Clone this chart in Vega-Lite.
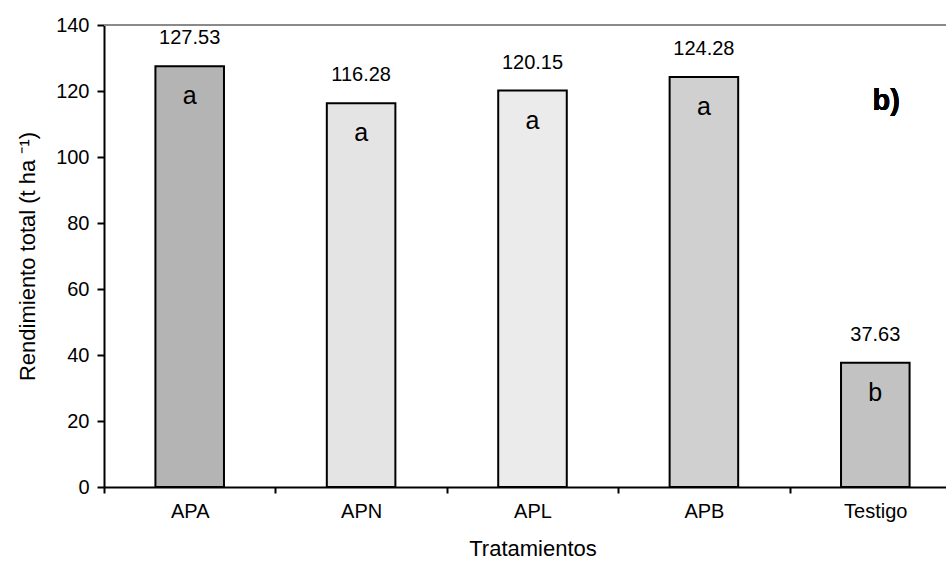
{
  "$schema": "https://vega.github.io/schema/vega-lite/v6.json",
  "width": 842,
  "height": 462,
  "autosize": "none",
  "padding": {"left": 104, "top": 25, "right": 0, "bottom": 75},
  "background": "white",
  "config": {
    "view": {"stroke": null},
    "font": "Liberation Sans",
    "text": {"font": "Liberation Sans"}
  },
  "data": {
    "values": [
      {"tratamiento": "APA", "rendimiento": 127.53, "letra": "a"},
      {"tratamiento": "APN", "rendimiento": 116.28, "letra": "a"},
      {"tratamiento": "APL", "rendimiento": 120.15, "letra": "a"},
      {"tratamiento": "APB", "rendimiento": 124.28, "letra": "a"},
      {"tratamiento": "Testigo", "rendimiento": 37.63, "letra": "b"}
    ]
  },
  "layer": [
    {
      "mark": {"type": "rule", "color": "#8a8a8a", "strokeWidth": 2},
      "encoding": {"y": {"datum": 140}}
    },
    {
      "mark": {"type": "bar", "width": {"band": 0.4}, "stroke": "black", "strokeWidth": 2},
      "encoding": {
        "x": {
          "field": "tratamiento",
          "type": "nominal",
          "sort": null,
          "scale": {"range": [0, 857], "paddingInner": 0, "paddingOuter": 0},
          "axis": {
            "title": "Tratamientos",
            "labelAngle": 0,
            "labelFontSize": 20,
            "labelColor": "black",
            "labelPadding": 8,
            "titleFontSize": 22,
            "titleFontWeight": "normal",
            "titleColor": "black",
            "titlePadding": 17,
            "domainColor": "black",
            "domainWidth": 2,
            "tickBand": "extent",
            "tickColor": "black",
            "tickWidth": 2,
            "tickSize": 6,
            "grid": false
          }
        },
        "y": {
          "field": "rendimiento",
          "type": "quantitative",
          "scale": {"domain": [0, 140], "nice": false},
          "axis": {
            "values": [0, 20, 40, 60, 80, 100, 120, 140],
            "title": "Rendimiento total (t ha ⁻¹)",
            "labelFontSize": 20,
            "labelColor": "black",
            "labelPadding": 8,
            "titleFontSize": 22,
            "titleFontWeight": "normal",
            "titleColor": "black",
            "titlePadding": 16,
            "domainColor": "black",
            "domainWidth": 2,
            "tickColor": "black",
            "tickWidth": 2,
            "tickSize": 7,
            "grid": false
          }
        },
        "color": {
          "field": "tratamiento",
          "type": "nominal",
          "sort": null,
          "scale": {"domain": ["APA", "APN", "APL", "APB", "Testigo"], "range": ["#b4b4b4", "#e4e4e4", "#ebebeb", "#d0d0d0", "#c2c2c2"]},
          "legend": null
        }
      }
    },
    {
      "mark": {"type": "text", "fontSize": 20, "baseline": "alphabetic", "dy": -22, "color": "black"},
      "encoding": {
        "x": {"field": "tratamiento", "type": "nominal", "sort": null},
        "y": {"field": "rendimiento", "type": "quantitative"},
        "text": {"field": "rendimiento", "type": "quantitative", "format": ".2f"}
      }
    },
    {
      "mark": {"type": "text", "fontSize": 25, "baseline": "middle", "dy": 30, "color": "black"},
      "encoding": {
        "x": {"field": "tratamiento", "type": "nominal", "sort": null},
        "y": {"field": "rendimiento", "type": "quantitative"},
        "text": {"field": "letra"}
      }
    },
    {
      "mark": {"type": "text", "fontSize": 29, "fontWeight": "bold", "baseline": "middle", "dx": 11, "color": "black", "text": "b)"},
      "encoding": {
        "x": {"datum": "Testigo"},
        "y": {"datum": 117}
      }
    }
  ]
}
